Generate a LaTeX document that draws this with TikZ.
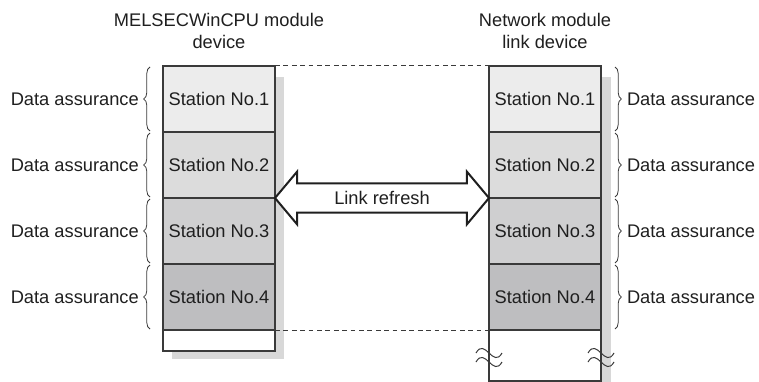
\documentclass[tikz,border=0pt]{standalone}
\usepackage{fontspec}
\setmainfont{Liberation Sans}
\usepackage{tikz}
\usetikzlibrary{positioning,calc,shapes.arrows,decorations.pathreplacing}
\usepackage{xcolor}
\definecolor{rowA}{HTML}{ECECEC}
\definecolor{rowB}{HTML}{DCDCDC}
\definecolor{rowC}{HTML}{CFCFD0}
\definecolor{rowD}{HTML}{BEBEC0}
\definecolor{shadegray}{HTML}{D8D8D8}
\definecolor{linegray}{HTML}{3A3A3A}

\begin{document}
\begin{tikzpicture}[x=0.25mm,y=-0.25mm,
  every node/.style={font=\fontsize{13}{15}\selectfont,text=black!88},
  cell/.style={draw=linegray,line width=0.3mm,minimum width=28mm,minimum height=16.5mm,inner sep=0pt,outer sep=0pt},
  dbrace/.style={decorate,decoration={brace,amplitude=1.6mm},draw=linegray,line width=0.2mm},
  linkdash/.style={draw=linegray,line width=0.25mm,dash pattern=on 1.2mm off 0.9mm},
  cut/.style={draw=linegray,line width=0.25mm}]
\useasboundingbox (0,0) rectangle (759,382);
% shadows behind the two device areas
\fill[shadegray] (172,77) rectangle (284,359);
\fill[shadegray] (498,77) rectangle (611,382);
% CPU module side
\node[align=center] (cputitle) at (219,31) {MELSECWinCPU module\\device};
\node[cell,fill=rowA] (cpu1) at (219,99) {Station No.1};
\node[cell,fill=rowB,below=0pt of cpu1] (cpu2) {Station No.2};
\node[cell,fill=rowC,below=0pt of cpu2] (cpu3) {Station No.3};
\node[cell,fill=rowD,below=0pt of cpu3] (cpu4) {Station No.4};
\node[cell,fill=white,minimum height=5.25mm,below=0pt of cpu4] (cpuend) {};
% network module side
\node[align=center] (nettitle) at (545,31) {Network module\\link device};
\node[cell,fill=rowA] (net1) at (545,99) {Station No.1};
\node[cell,fill=rowB,below=0pt of net1] (net2) {Station No.2};
\node[cell,fill=rowC,below=0pt of net2] (net3) {Station No.3};
\node[cell,fill=rowD,below=0pt of net3] (net4) {Station No.4};
\node[cell,fill=white,minimum height=12.75mm,below=0pt of net4] (netend) {};
% break marks
\foreach \side in {south west,south east}
  \foreach \dy in {-28,-19}
    \draw[cut] ($(netend.\side)+(-13,\dy)$) .. controls +(9,-16) and +(-9,16) .. +(26,0);
% data assurance braces
\foreach \i in {1,...,4}{
  \draw[dbrace] ($(cpu\i.south west)+(-13,-1)$) -- ($(cpu\i.north west)+(-13,1)$)
    node[midway,left=2.4mm,inner sep=0.3mm] {Data assurance};
  \draw[dbrace] ($(net\i.north east)+(14,1)$) -- ($(net\i.south east)+(14,-1)$)
    node[midway,right=2.6mm,inner sep=0.3mm] {Data assurance};
}
\draw[linkdash] (cpu1.north east) -- (net1.north west);
\draw[linkdash] (cpu4.south east) -- (net4.south west);
\node[double arrow,draw=black!88,line width=0.5mm,fill=white,minimum height=53.5mm,
  double arrow head extend=2.9mm,double arrow tip angle=100,inner xsep=0pt,inner ysep=1.75mm]
  (refresh) at ($(cpu2.south east)!0.5!(net2.south west)$) {Link refresh};
\end{tikzpicture}
\end{document}
